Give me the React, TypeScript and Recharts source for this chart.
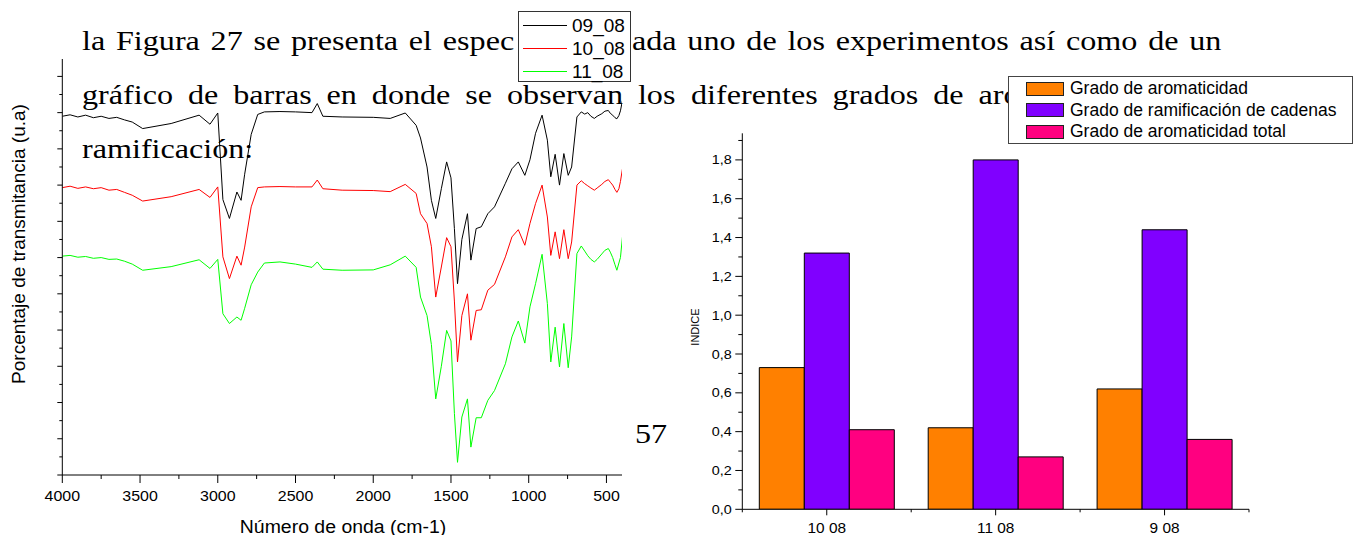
import React from 'react';
import { LineChart, Line, BarChart, Bar, XAxis, YAxis, Legend } from 'recharts';

// IR spectra, wavenumber (cm-1) and transmittance (u.a)
const waveNumbers = [4000, 3950, 3900, 3850, 3800, 3750, 3700, 3650, 3600, 3550, 3483, 3300, 3120, 3050, 3000, 2967, 2925, 2877, 2850, 2827, 2785, 2743, 2700, 2600, 2500, 2394, 2360, 2324, 2200, 2000, 1891, 1794, 1724, 1696, 1654, 1626, 1598, 1562, 1528, 1500, 1478, 1458, 1430, 1394, 1372, 1338, 1305, 1263, 1220, 1150, 1108, 1067, 1025, 992, 956, 914, 880, 858, 830, 802, 774, 746, 724, 690, 662, 640, 620, 600, 578, 560, 530, 510, 488, 475, 460, 445, 433, 420, 410, 397];
const t09 = [9.9, 9.94, 9.88, 9.93, 9.86, 9.9, 9.84, 9.87, 9.8, 9.74, 9.56, 9.7, 9.93, 9.68, 9.99, 7.6, 7.08, 7.81, 7.58, 8.3, 9.4, 9.95, 10.02, 10.03, 10.02, 10.0, 10.25, 9.9, 9.88, 9.87, 9.84, 9.99, 9.65, 9.3, 8.5, 7.58, 7.08, 7.9, 8.64, 8.2, 6.8, 5.28, 6.5, 7.21, 5.93, 6.8, 6.85, 7.21, 7.4, 8.05, 8.45, 8.64, 8.27, 8.7, 9.43, 9.93, 9.24, 8.23, 8.85, 8.0, 8.87, 8.27, 8.5, 9.88, 10.02, 9.96, 10.0, 9.9, 9.84, 9.9, 9.97, 10.04, 10.06, 9.98, 9.93, 9.86, 9.83, 9.92, 10.05, 10.34];
const t10 = [7.93, 7.97, 7.91, 7.95, 7.9, 7.93, 7.86, 7.88, 7.8, 7.72, 7.56, 7.68, 7.88, 7.66, 7.95, 6.02, 5.42, 6.04, 5.79, 6.29, 7.4, 7.93, 7.95, 7.96, 7.95, 7.95, 8.14, 7.9, 7.86, 7.85, 7.82, 8.02, 7.77, 7.21, 6.94, 6.3, 4.91, 5.74, 6.55, 6.3, 4.8, 3.12, 4.4, 5.0, 3.72, 4.54, 4.56, 5.1, 5.26, 6.02, 6.57, 6.77, 6.34, 6.94, 7.49, 8.0, 7.12, 6.06, 6.71, 5.97, 6.77, 5.97, 6.43, 8.0, 8.12, 8.04, 7.98, 7.92, 7.86, 7.92, 8.02, 8.1, 8.15, 8.08, 8.0, 7.88, 7.8, 7.9, 8.1, 8.45];
const t11 = [6.04, 6.06, 6.01, 6.03, 5.98, 6.0, 5.95, 5.96, 5.9, 5.82, 5.65, 5.75, 5.94, 5.7, 5.95, 4.45, 4.18, 4.36, 4.27, 4.6, 5.25, 5.6, 5.85, 5.88, 5.82, 5.73, 5.88, 5.68, 5.65, 5.66, 5.8, 6.04, 5.73, 4.91, 4.4, 3.6, 2.1, 3.0, 3.99, 3.7, 1.7, 0.35, 1.6, 2.1, 0.77, 1.58, 1.58, 2.06, 2.33, 3.07, 3.81, 4.25, 3.64, 4.64, 5.28, 6.09, 4.73, 3.12, 4.08, 2.98, 4.18, 2.96, 3.81, 6.11, 6.32, 6.18, 6.05, 5.95, 5.88, 5.95, 6.1, 6.2, 6.25, 6.15, 6.0, 5.8, 5.65, 5.85, 6.0, 6.57];
const specXTicks = [4000, 3750, 3500, 3250, 3000, 2750, 2500, 2250, 2000, 1750, 1500, 1250, 1000, 750, 500];
const specYTicks = [0, 0.5, 1, 1.5, 2, 2.5, 3, 3.5, 4, 4.5, 5, 5.5, 6, 6.5, 7, 7.5, 8, 8.5, 9, 9.5, 10, 10.5, 11];

const specSeries = [
  { key: 's09', name: '09_08', color: '#000000' },
  { key: 's10', name: '10_08', color: '#ff0000' },
  { key: 's11', name: '11_08', color: '#00ff00' },
];

// bar chart: indices per sample
const samples = ['10 08', '11 08', '9 08'];
const aromaticidad = [0.73, 0.42, 0.62];
const ramificacion = [1.32, 1.8, 1.44];
const aromTotal = [0.41, 0.27, 0.36];
const barYTicks = [0, 0.1, 0.2, 0.3, 0.4, 0.5, 0.6, 0.7, 0.8, 0.9, 1.0, 1.1, 1.2, 1.3, 1.4, 1.5, 1.6, 1.7, 1.8, 1.9];

const barSeries = [
  { key: 'arom', name: 'Grado de aromaticidad', color: '#ff8000' },
  { key: 'ramif', name: 'Grado de ramificación de cadenas', color: '#8000ff' },
  { key: 'total', name: 'Grado de aromaticidad total', color: '#ff0080' },
];

const specData = waveNumbers.map((wn, i) => ({ wn, s09: t09[i], s10: t10[i], s11: t11[i] }));
const barData = samples.map((name, i) => ({ name, arom: aromaticidad[i], ramif: ramificacion[i], total: aromTotal[i] }));

const SANS = '"Liberation Sans", Arial, sans-serif';
const SERIF = '"Liberation Serif", "Times New Roman", serif';

const SpecXTick = ({ x, y, payload }: any) => {
  const major = payload.value % 500 === 0;
  return (
    <g transform={`translate(${x},${y})`}>
      <line x1={0} y1={0} x2={0} y2={major ? 8 : 4} stroke="#000" />
      {major && (
        <text x={0} y={26} textAnchor="middle" fontSize={14.5} fontFamily={SANS} fill="#000" transform="scale(1.1,1)">
          {payload.value}
        </text>
      )}
    </g>
  );
};

const SpecYTick = ({ x, y, payload }: any) => {
  const major = Number.isInteger(payload.value);
  return <line x1={x - (major ? 5 : 3)} y1={y} x2={x} y2={y} stroke="#000" />;
};

const BarYTick = ({ x, y, payload }: any) => {
  const major = Math.round(payload.value * 10) % 2 === 0;
  return (
    <g transform={`translate(${x},${y})`}>
      <line x1={major ? -7 : -4} y1={0} x2={0} y2={0} stroke="#000" />
      {major && (
        <text x={-10.5 / 1.15} y={4.5} textAnchor="end" fontSize={12.5} fontFamily={SANS} fill="#000" transform="scale(1.15,1)">
          {payload.value.toFixed(1).replace('.', ',')}
        </text>
      )}
    </g>
  );
};

const BarXTick = ({ x, y, payload, index }: any) => {
  const half = payload.offset || 0;
  return (
    <g transform={`translate(${x},${y})`}>
      <line x1={0} y1={0} x2={0} y2={6} stroke="#000" />
      <line x1={-half} y1={0} x2={-half} y2={3} stroke="#000" />
      {index === samples.length - 1 && <line x1={half} y1={0} x2={half} y2={3} stroke="#000" />}
      <text x={0} y={24} textAnchor="middle" fontSize={14} fontFamily={SANS} fill="#000" transform="scale(1.1,1)">
        {payload.value}
      </text>
    </g>
  );
};

const SpecLegend = () => (
  <div style={{ width: 113, height: 71, border: '1px solid #333', background: '#fff', boxSizing: 'border-box', padding: '2px 0 0 4px' }}>
    {specSeries.map((s) => (
      <div key={s.key} style={{ display: 'flex', alignItems: 'center', height: 23.3 }}>
        <div style={{ width: 44, borderTop: `1px solid ${s.color}` }} />
        <span style={{ marginLeft: 5, fontFamily: SANS, fontSize: 19, lineHeight: '23px', color: '#000' }}>{s.name}</span>
      </div>
    ))}
  </div>
);

const BarLegend = () => (
  <div style={{ width: 345, height: 68, border: '1px solid #444', background: '#fff', boxSizing: 'border-box', padding: '1px 0 0 17px' }}>
    {barSeries.map((s) => (
      <div key={s.key} style={{ display: 'flex', alignItems: 'center', height: 21.7 }}>
        <div style={{ width: 38, height: 14, background: s.color, border: '1px solid #222', boxSizing: 'border-box' }} />
        <span style={{ marginLeft: 6, fontFamily: SANS, fontSize: 17.5, lineHeight: '21px', color: '#000' }}>{s.name}</span>
      </div>
    ))}
  </div>
);

// baseline sits about 19px below the top of a 20px line box
const textLine: React.CSSProperties = {
  position: 'absolute',
  fontFamily: SERIF,
  fontSize: 27,
  lineHeight: '20px',
  whiteSpace: 'nowrap',
  transform: 'scaleX(1.19)',
  transformOrigin: 'left top',
  color: '#000',
};

export default function App() {
  return (
    <div style={{ position: 'absolute', left: 0, top: 0, width: 1356, height: 535, overflow: 'hidden', background: '#fff' }}>
      {/* page text behind the figures, only the parts left visible */}
      <div style={{ ...textLine, left: 81.5, top: 30.9, wordSpacing: 2.3 }}>la Figura 27 se presenta el espec</div>
      <div style={{ ...textLine, left: 632, top: 30.9, wordSpacing: 2.3 }}>ada uno de los experimentos así como de un</div>
      <div style={{ ...textLine, left: 81.5, top: 84.9, wordSpacing: 5.8 }}>gráfico de barras en donde se observan los</div>
      <div style={{ ...textLine, left: 690.8, top: 84.9, wordSpacing: 5.8 }}>diferentes grados de aro</div>
      <div style={{ ...textLine, left: 81.5, top: 138.9 }}>ramificación:</div>
      <div style={{ ...textLine, left: 635, top: 423.9 }}>57</div>

      {/* IR spectra */}
      <div style={{ position: 'absolute', left: 0, top: 0 }}>
        <LineChart width={680} height={535} data={specData} margin={{ top: 59, right: 58, bottom: 0, left: 0 }}>
          <XAxis
            dataKey="wn"
            type="number"
            domain={[400, 4000]}
            reversed
            allowDataOverflow
            ticks={specXTicks}
            interval={0}
            height={60}
            tickSize={0}
            tickMargin={0}
            tickLine={false}
            axisLine={{ stroke: '#000' }}
            tick={<SpecXTick />}
          />
          <YAxis
            type="number"
            domain={[0, 11.48]}
            allowDataOverflow
            ticks={specYTicks}
            interval={0}
            width={62.3}
            tickSize={0}
            tickMargin={0}
            tickLine={false}
            axisLine={{ stroke: '#000' }}
            tick={<SpecYTick />}
          />
          {specSeries.map((s) => (
            <Line key={s.key} type="linear" dataKey={s.key} name={s.name} stroke={s.color} strokeWidth={1} dot={false} isAnimationActive={false} />
          ))}
          <Legend
            layout="horizontal"
            verticalAlign="middle"
            align="center"
            content={<SpecLegend />}
            wrapperStyle={{ left: 518, top: 10.7, width: 113, height: 71 }}
          />
        </LineChart>
      </div>
      <div style={{ position: 'absolute', left: 342.5, top: 517.5, transform: 'translateX(-50%) scaleX(1.08)', fontFamily: SANS, fontSize: 18, lineHeight: '18px', whiteSpace: 'nowrap' }}>
        Número de onda (cm-1)
      </div>
      <div style={{ position: 'absolute', left: 18.3, top: 244, transform: 'translate(-50%,-50%) rotate(-90deg)', fontFamily: SANS, fontSize: 19, lineHeight: '19px', whiteSpace: 'nowrap' }}>
        Porcentaje de transmitancia (u.a)
      </div>

      {/* bar chart of indices */}
      <div style={{ position: 'absolute', left: 680, top: 0 }}>
        <BarChart width={676} height={535} data={barData} margin={{ top: 133.3, right: 107, bottom: 0, left: 0 }} barCategoryGap={17} barGap={0}>
          <XAxis
            dataKey="name"
            height={25.7}
            interval={0}
            tickSize={0}
            tickMargin={0}
            tickLine={false}
            axisLine={{ stroke: '#000' }}
            tick={<BarXTick />}
          />
          <YAxis
            type="number"
            domain={[0, 1.937]}
            allowDataOverflow
            ticks={barYTicks}
            interval={0}
            width={62.3}
            tickSize={0}
            tickMargin={0}
            tickLine={false}
            axisLine={{ stroke: '#000' }}
            tick={<BarYTick />}
          />
          {barSeries.map((s) => (
            <Bar key={s.key} dataKey={s.key} name={s.name} fill={s.color} stroke="#000" strokeWidth={1} isAnimationActive={false} />
          ))}
          <Legend
            layout="horizontal"
            verticalAlign="middle"
            align="center"
            content={<BarLegend />}
            wrapperStyle={{ left: 328, top: 75.7, width: 345, height: 68 }}
          />
        </BarChart>
      </div>
      <div style={{ position: 'absolute', left: 695, top: 326.7, transform: 'translate(-50%,-50%) rotate(-90deg)', fontFamily: SANS, fontSize: 11, lineHeight: '11px', whiteSpace: 'nowrap' }}>
        INDICE
      </div>
    </div>
  );
}
